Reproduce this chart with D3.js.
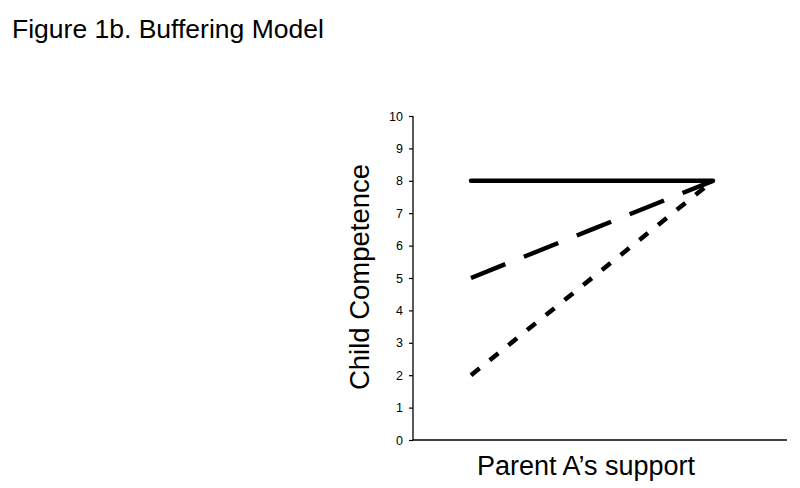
<!DOCTYPE html>
<html>
<head>
<meta charset="utf-8">
<script src="https://cdn.jsdelivr.net/npm/d3@7"></script>
<style>
  body { margin: 0; background: #fff; }
  text { font-family: "Liberation Sans", Arial, sans-serif; fill: #000; }
</style>
</head>
<body>
<svg id="chart" width="800" height="488"></svg>
<script>
// support levels (low, mid, high) along the x axis
let support = [0, 1, 2];
// child competence for each line
let solidVals = [8, 8, 8];
let dashVals = [5, 6.5, 8];
let dotVals = [2, 5, 8];
let yTicks = [0, 1, 2, 3, 4, 5, 6, 7, 8, 9, 10];

let svg = d3.select("#chart"),
    axisLeft = 413,
    axisRight = 787,
    axisBottom = 440,
    axisTop = 116;

let x = d3.scaleLinear().domain([0, 2]).range([471, 713]);
let y = d3.scaleLinear().domain([0, 10]).range([axisBottom, axisTop]);

svg.append("text")
    .attr("x", 12).attr("y", 37.5)
    .style("font-size", "26.5px")
    .text("Figure 1b. Buffering Model");

// y axis
let yAxis = svg.append("g")
    .attr("transform", "translate(" + axisLeft + ",0)")
    .call(d3.axisLeft(y).tickValues(yTicks).tickSize(4).tickPadding(6).tickFormat(d3.format("d")))
    .attr("font-size", 12.5)
    .attr("font-family", "Liberation Sans, Arial, sans-serif");
yAxis.select(".domain").attr("stroke", "#000").attr("stroke-width", 1.3).attr("d", "M0," + axisTop + "V" + axisBottom);
yAxis.selectAll(".tick line").attr("stroke", "#000").attr("stroke-width", 1.2);
yAxis.selectAll(".tick text").style("font-size", "12.5px").attr("fill", "#000");

// x axis line, no ticks
svg.append("line")
    .attr("x1", axisLeft).attr("x2", axisRight)
    .attr("y1", axisBottom).attr("y2", axisBottom)
    .attr("stroke", "#000").attr("stroke-width", 1.3);

svg.append("text")
    .attr("transform", "translate(369," + 277 + ") rotate(-90)")
    .attr("text-anchor", "middle")
    .style("font-size", "27.5px")
    .text("Child Competence");

svg.append("text")
    .attr("x", 586).attr("y", 474.5)
    .attr("text-anchor", "middle")
    .style("font-size", "27px")
    .text("Parent A\u2019s support");

let line = d3.line()
    .x(function (d, i) { return x(support[i]); })
    .y(function (d) { return y(d); });

let series = [
    { vals: dotVals, dash: "11,13" },
    { vals: dashVals, dash: "37,20" },
    { vals: solidVals, dash: null }
];

svg.selectAll(".series")
    .data(series)
    .enter()
    .append("path")
    .attr("class", "series")
    .attr("d", function (d) { return line(d.vals); })
    .attr("fill", "none")
    .attr("stroke", "#000")
    .attr("stroke-width", 4.5)
    .attr("stroke-linecap", function (d) { return d.dash ? "butt" : "round"; })
    .attr("stroke-dasharray", function (d) { return d.dash; });
</script>
</body>
</html>
